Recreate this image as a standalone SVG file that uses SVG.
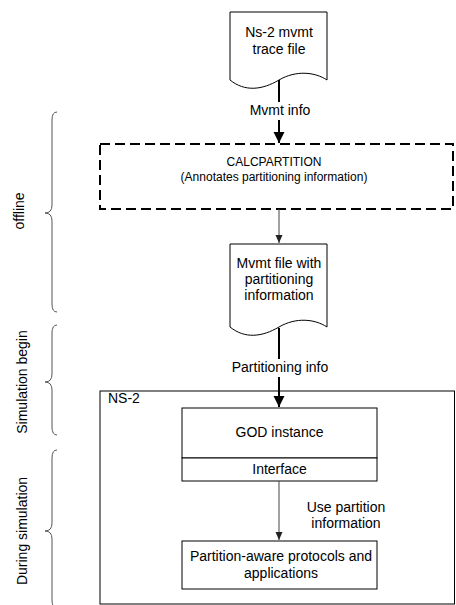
<svg xmlns="http://www.w3.org/2000/svg" width="456" height="605" viewBox="0 0 456 605">
<style>
text{font-family:"Liberation Sans",Arial,sans-serif;font-size:14px;fill:#000}
.c{text-anchor:middle}
.s{font-size:12px}
.shape{fill:#fff;stroke:#000;stroke-width:1}
.brace{fill:none;stroke:#555;stroke-width:1}
.thick{stroke:#000;stroke-width:2;fill:none}
.thin{stroke:#444;stroke-width:1;fill:none}
</style>
<defs>
<marker id="bigArrow" markerUnits="userSpaceOnUse" markerWidth="12" markerHeight="12" refX="11" refY="6" orient="auto">
<path d="M0,0.5 L11,6 L0,11.5 Z" fill="#000"/>
</marker>
<marker id="smallArrow" markerUnits="userSpaceOnUse" markerWidth="9" markerHeight="8" refX="8" refY="4" orient="auto">
<path d="M0,0.5 L8,4 L0,7.5 Z" fill="#222"/>
</marker>
</defs>
<rect width="456" height="605" fill="#fff"/>

<g id="ns2-container">
<rect class="shape" x="100" y="391" width="354.5" height="213"/>
<text x="108" y="403">NS-2</text>
</g>

<g id="trace-file">
<path class="shape" d="M230,12 H327 V80 C315,72 296,70 279,80 C262,90 245,92 230,80 Z"/>
<text class="c" x="279" y="37">Ns-2 mvmt</text>
<text class="c" x="279" y="54">trace file</text>
</g>

<g id="calcpartition">
<rect x="100" y="144" width="353" height="65" fill="#fff" stroke="#000" stroke-width="2" stroke-dasharray="10,5"/>
<text class="c s" x="274" y="166">CALCPARTITION</text>
<text class="c s" x="274" y="181">(Annotates partitioning information)</text>
</g>

<g id="mvmt-file">
<path class="shape" d="M230,244 H327 V327 C315,319 296,317 279,327 C262,337 245,339 230,327 Z"/>
<text class="c" x="279" y="268">Mvmt file with</text>
<text class="c" x="279" y="284">partitioning</text>
<text class="c" x="279" y="300">information</text>
</g>

<g id="god-instance">
<rect class="shape" x="182" y="408" width="195" height="50"/>
<text class="c" x="279.5" y="437">GOD instance</text>
</g>

<g id="interface">
<rect class="shape" x="182" y="458" width="195" height="23"/>
<text class="c" x="279.5" y="474">Interface</text>
</g>

<g id="partition-aware">
<rect class="shape" x="182" y="541" width="195" height="48"/>
<text class="c" x="281" y="561">Partition-aware protocols and</text>
<text class="c" x="281" y="578">applications</text>
</g>

<g id="connectors">
<line class="thick" x1="279" y1="80" x2="279" y2="102"/>
<line class="thick" x1="279" y1="120" x2="279" y2="143" marker-end="url(#bigArrow)"/>
<text class="c" x="280" y="115">Mvmt info</text>
<line class="thin" x1="279" y1="209" x2="279" y2="243" marker-end="url(#smallArrow)"/>
<line class="thick" x1="279" y1="328" x2="279" y2="359"/>
<line class="thick" x1="279" y1="377" x2="279" y2="407" marker-end="url(#bigArrow)"/>
<text class="c" x="280" y="372">Partitioning info</text>
<line class="thin" x1="279" y1="481" x2="279" y2="540" marker-end="url(#smallArrow)"/>
<text class="c" x="346" y="512">Use partition</text>
<text class="c" x="346" y="528">information</text>
</g>

<g id="brace-offline">
<path class="brace" d="M57,112 Q52,112 52,120 V205 Q52,213 45,213 Q52,213 52,221 V304 Q52,312 57,312"/>
<text class="c" transform="translate(24,211) rotate(-90)">offline</text>
</g>
<g id="brace-simulation-begin">
<path class="brace" d="M57,325 Q52,325 52,333 V374 Q52,382 45,382 Q52,382 52,390 V427 Q52,435 57,435"/>
<text class="c" transform="translate(27,382) rotate(-90)">Simulation begin</text>
</g>
<g id="brace-during-simulation">
<path class="brace" d="M57,450 Q52,450 52,458 V523 Q52,531 45,531 Q52,531 52,539 V600 Q52,608 57,608"/>
<text class="c" transform="translate(27,531) rotate(-90)">During simulation</text>
</g>
</svg>
